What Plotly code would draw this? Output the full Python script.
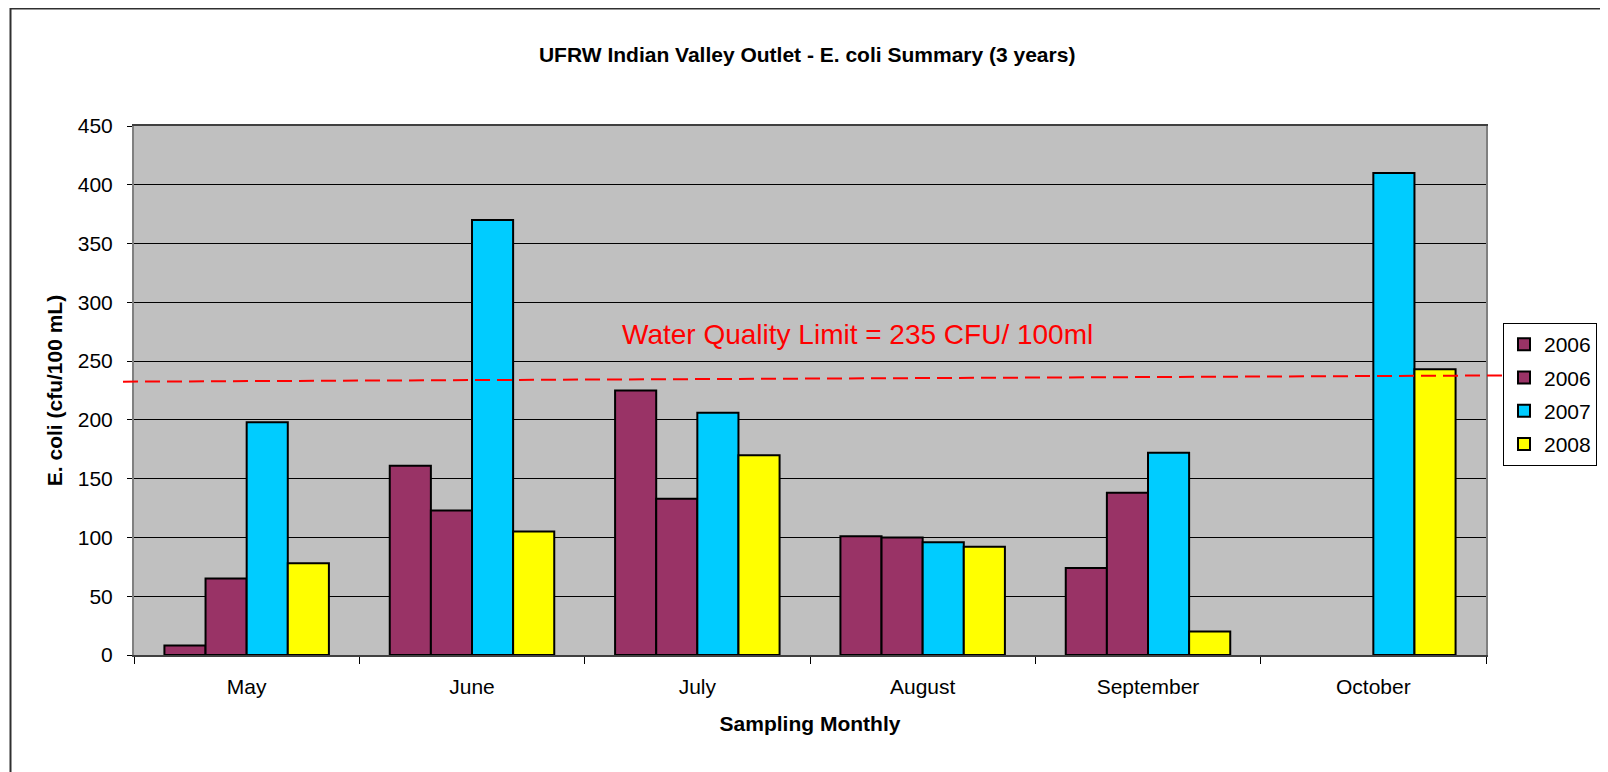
import plotly.graph_objects as go

months = ["May", "June", "July", "August", "September", "October"]
ecoli_2006_a = [8, 161, 225, 101, 74, None]
ecoli_2006_b = [65, 123, 133, 100, 138, None]
ecoli_2007 = [198, 370, 206, 96, 172, 410]
ecoli_2008 = [78, 105, 170, 92, 20, 243]
series_names = ["2006", "2006", "2007", "2008"]
series_colors = ["#993366", "#993366", "#00CCFF", "#FFFF00"]
limit_label = "Water Quality Limit = 235 CFU/ 100ml"
limit_line_y = [232.5, 237.8]
y_ticks = list(range(0, 451, 50))

FONT = "Liberation Sans, Arial, sans-serif"

# plot-area geometry (figure pixels)
L, T, W, H = 126, 118, 1352, 529

fig = go.Figure()
for i, (name, vals, col) in enumerate(zip(series_names,
                                          [ecoli_2006_a, ecoli_2006_b, ecoli_2007, ecoli_2008],
                                          series_colors)):
    fig.add_trace(go.Bar(
        x=months, y=vals, name=name, legendgroup=f"g{i}",
        marker=dict(color=col, line=dict(color="black", width=2)),
    ))

fig.update_layout(
    width=1608, height=772,
    margin=dict(l=L, r=1608 - L - W, t=T, b=772 - T - H),
    paper_bgcolor="white", plot_bgcolor="#C0C0C0",
    barmode="group", bargap=0.27, bargroupgap=0,
    font=dict(family=FONT, size=21, color="black"),
    title=dict(text="<b>UFRW Indian Valley Outlet - E. coli Summary (3 years)</b>",
               x=0.497, xanchor="center", y=1 - 47 / 772, yanchor="middle",
               font=dict(size=21, family=FONT, color="black")),
    legend=dict(x=(1503 - 134) / W, xanchor="left",
                y=(655 - 323) / H, yanchor="top",
                bgcolor="white", bordercolor="black", borderwidth=1,
                font=dict(size=21, family=FONT), traceorder="grouped",
                tracegroupgap=3),
    showlegend=True,
)

fig.update_xaxes(
    type="category", tickson="boundaries", ticks="outside", ticklen=7,
    tickcolor="black", tickwidth=1, showline=True, linecolor="#404040",
    linewidth=2, mirror=True, showgrid=False, ticklabelstandoff=12,
    title=dict(text="<b>Sampling Monthly</b>", standoff=19,
               font=dict(size=21, family=FONT)),
    tickfont=dict(size=21, family=FONT),
)
fig.update_yaxes(
    range=[0, 450], tickvals=y_ticks, ticks="outside", ticklen=5,
    tickcolor="black", showline=True, linecolor="#808080", linewidth=2,
    mirror=True, showgrid=True, gridcolor="black", gridwidth=1,
    zeroline=False, ticklabelstandoff=10,
    title=dict(text="<b>E. coli (cfu/100 mL)</b>", standoff=9,
               font=dict(size=21, family=FONT)),
    tickfont=dict(size=21, family=FONT),
)

# water-quality limit dashed line
fig.add_shape(type="line", xref="paper", yref="y",
              x0=-11 / W, x1=(1502 - 134) / W,
              y0=limit_line_y[0], y1=limit_line_y[1],
              line=dict(color="#FF0000", width=2, dash="15px,7px"))
fig.add_annotation(text=limit_label, xref="paper", yref="y",
                   x=(1095 - 134) / W, xanchor="right",
                   y=273, yanchor="middle", showarrow=False,
                   font=dict(size=28, family=FONT, color="#FF0000"))

# chart-area border
fig.add_shape(type="rect", xref="paper", yref="paper",
              x0=(2.5 - L) / W, x1=(1700 - L) / W,
              y0=-200 / H, y1=(T + H - 0.5) / H,
              line=dict(color="#303030", width=2), layer="below")

fig.write_html("out.html")
